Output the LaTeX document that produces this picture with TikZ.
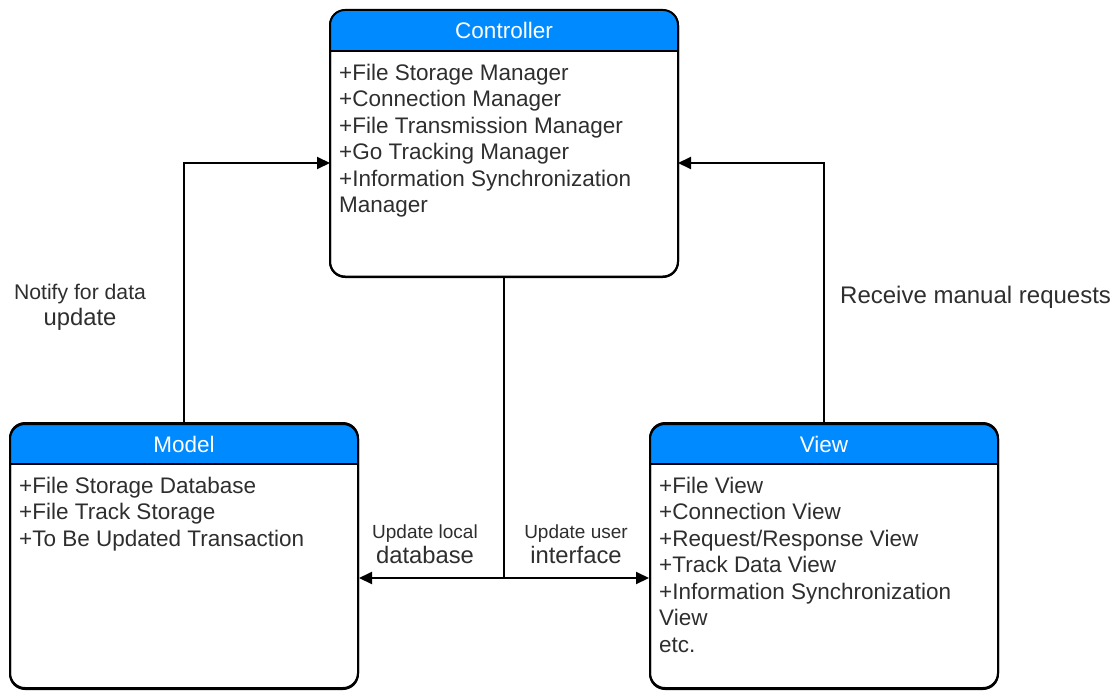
\documentclass[tikz,border=0pt]{standalone}
\usepackage{fontspec}
\setmainfont{Liberation Sans}
\usetikzlibrary{arrows.meta,calc}
\definecolor{hdrblue}{RGB}{0,138,255}
\definecolor{txt}{HTML}{2E2E2E}
\tikzset{
  classbox/.style={draw=black, line width=2pt, rounded corners=15pt, rectangle, minimum width=348pt, minimum height=266pt, inner sep=0pt},
  hdrtext/.style={text=white, font=\fontsize{22.5}{27}\selectfont, inner sep=0pt, anchor=base},
  items/.style={text=txt, font=\fontsize{22.5}{26.5}\selectfont, align=left, inner sep=0pt, anchor=base west},
  lbl/.style={text=txt, align=center, inner sep=0pt, anchor=base},
  arr/.style={line width=2pt, -{Triangle[length=13pt,width=12pt]}},
  conn/.style={line width=2pt}
}
\begin{document}
\begin{tikzpicture}[x=1pt,y=-1pt]
\useasboundingbox (0,0) rectangle (1115,690);
% Controller
\node[classbox] (ctrl) at (504,143.5) {};
\begin{scope}
  \clip[rounded corners=15pt] (330,10) rectangle (678,277);
  \fill[hdrblue] (330,10) rectangle (678,51);
\end{scope}
\draw[line width=2pt] (330,51) -- (678,51);
\draw[line width=2pt, rounded corners=15pt] (330,10) rectangle (678,277);
\node[hdrtext] (ctrlT) at (504,39) {Controller};
\node[items] (ctrlI) at (339,212.5) {+File Storage Manager\\+Connection Manager\\+File Transmission Manager\\+Go Tracking Manager\\+Information Synchronization\\Manager};
% Model
\node[classbox] (model) at (184,556) {};
\begin{scope}
  \clip[rounded corners=15pt] (10,424) rectangle (358,688);
  \fill[hdrblue] (10,424) rectangle (358,464);
\end{scope}
\draw[line width=2pt] (10,464) -- (358,464);
\draw[line width=2pt, rounded corners=15pt] (10,424) rectangle (358,688);
\node[hdrtext] (modelT) at (184,452) {Model};
\node[items] (modelI) at (19,546) {+File Storage Database\\+File Track Storage\\+To Be Updated Transaction};
% View
\node[classbox] (view) at (824,556) {};
\begin{scope}
  \clip[rounded corners=15pt] (650,424) rectangle (998,688);
  \fill[hdrblue] (650,424) rectangle (998,464);
\end{scope}
\draw[line width=2pt] (650,464) -- (998,464);
\draw[line width=2pt, rounded corners=15pt] (650,424) rectangle (998,688);
\node[hdrtext] (viewT) at (824,452) {View};
\node[items] (viewI) at (659,652) {+File View\\+Connection View\\+Request/Response View\\+Track Data View\\+Information Synchronization\\View\\etc.};
% connectors
\coordinate (cl) at (330,163);
\coordinate (cr) at (678,163);
\draw[arr] (model.north) |- (cl);
\draw[arr] (view.north) |- (cr);
\coordinate (junc) at (504,578);
\draw[conn] (ctrl.south) -- (junc);
\draw[arr] (junc) -- (junc -| model.east);
\draw[arr] (junc) -- (junc -| view.west);
% labels
\node[lbl, font=\fontsize{23.8}{26}\selectfont] (l1) at (80,325) {{\fontsize{21.2}{26}\selectfont Notify for data}\\update};
\node[lbl, anchor=base west, font=\fontsize{24}{26}\selectfont] (l2) at (840,303) {Receive manual requests};
\node[lbl, font=\fontsize{23.8}{25}\selectfont] (l3) at (425,563) {{\fontsize{19}{25}\selectfont Update local}\\database};
\node[lbl, font=\fontsize{23.8}{25}\selectfont] (l4) at (576,563) {{\fontsize{19}{25}\selectfont Update user}\\interface};
\end{tikzpicture}
\end{document}
